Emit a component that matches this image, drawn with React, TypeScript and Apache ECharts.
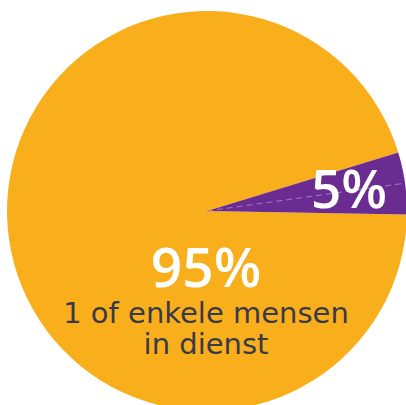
import React, { useEffect, useRef } from "react";
import * as echarts from "echarts";

const categories = ["1 of enkele mensen in dienst", "meer mensen"];
const shares = [95, 5];
const colors = ["#F9AF1B", "#6A2C90"];
const subtitleLines = ["1 of enkele mensen", "in dienst"];

export default function App() {
  const ref = useRef<HTMLDivElement>(null);
  useEffect(() => {
    document.body.style.margin = "0";
    if (!ref.current) return;
    const chart = echarts.init(ref.current, null, { renderer: "svg" });
    const cx = 207;
    const cy = 211;
    const r = 200;
    const startAngle = -1;
    const total = shares.reduce((a, b) => a + b, 0);
    const midAngle = ((startAngle + (360 * shares[1]) / total / 2) * Math.PI) / 180;
    chart.setOption({
      animation: false,
      series: [
        {
          type: "pie",
          center: [cx, cy],
          radius: [0, r],
          startAngle,
          clockwise: true,
          silent: true,
          label: { show: false },
          labelLine: { show: false },
          itemStyle: { borderWidth: 0 },
          data: categories.map((name, i) => ({
            name,
            value: shares[i],
            itemStyle: { color: colors[i] },
          })),
        },
      ],
      graphic: {
        elements: [
          {
            type: "line",
            z: 100,
            shape: {
              x1: cx,
              y1: cy,
              x2: cx + r * Math.cos(midAngle),
              y2: cy - r * Math.sin(midAngle),
            },
            style: { stroke: "#A27BC0", lineWidth: 1, lineDash: [6, 4] },
            silent: true,
          },
          {
            type: "text",
            z: 100,
            x: 349,
            y: 187,
            style: {
              text: `${shares[1]}%`,
              fill: "#ffffff",
              fontFamily: "Open Sans",
              fontWeight: 600,
              fontSize: 53,
              align: "center",
              verticalAlign: "middle",
            },
          },
          {
            type: "text",
            z: 100,
            x: 206,
            y: 265,
            style: {
              text: `${shares[0]}%`,
              fill: "#ffffff",
              fontFamily: "Open Sans",
              fontWeight: 600,
              fontSize: 55,
              align: "center",
              verticalAlign: "middle",
            },
          },
          {
            type: "text",
            z: 100,
            x: 206,
            y: 328,
            style: {
              text: subtitleLines.join("\n"),
              fill: "#3A3947",
              fontFamily: "DejaVu Sans",
              fontWeight: 400,
              fontSize: 29,
              lineHeight: 31,
              align: "center",
              verticalAlign: "middle",
            },
          },
        ],
      },
    });
    return () => chart.dispose();
  }, []);
  return <div ref={ref} style={{ width: 406, height: 405 }} />;
}
